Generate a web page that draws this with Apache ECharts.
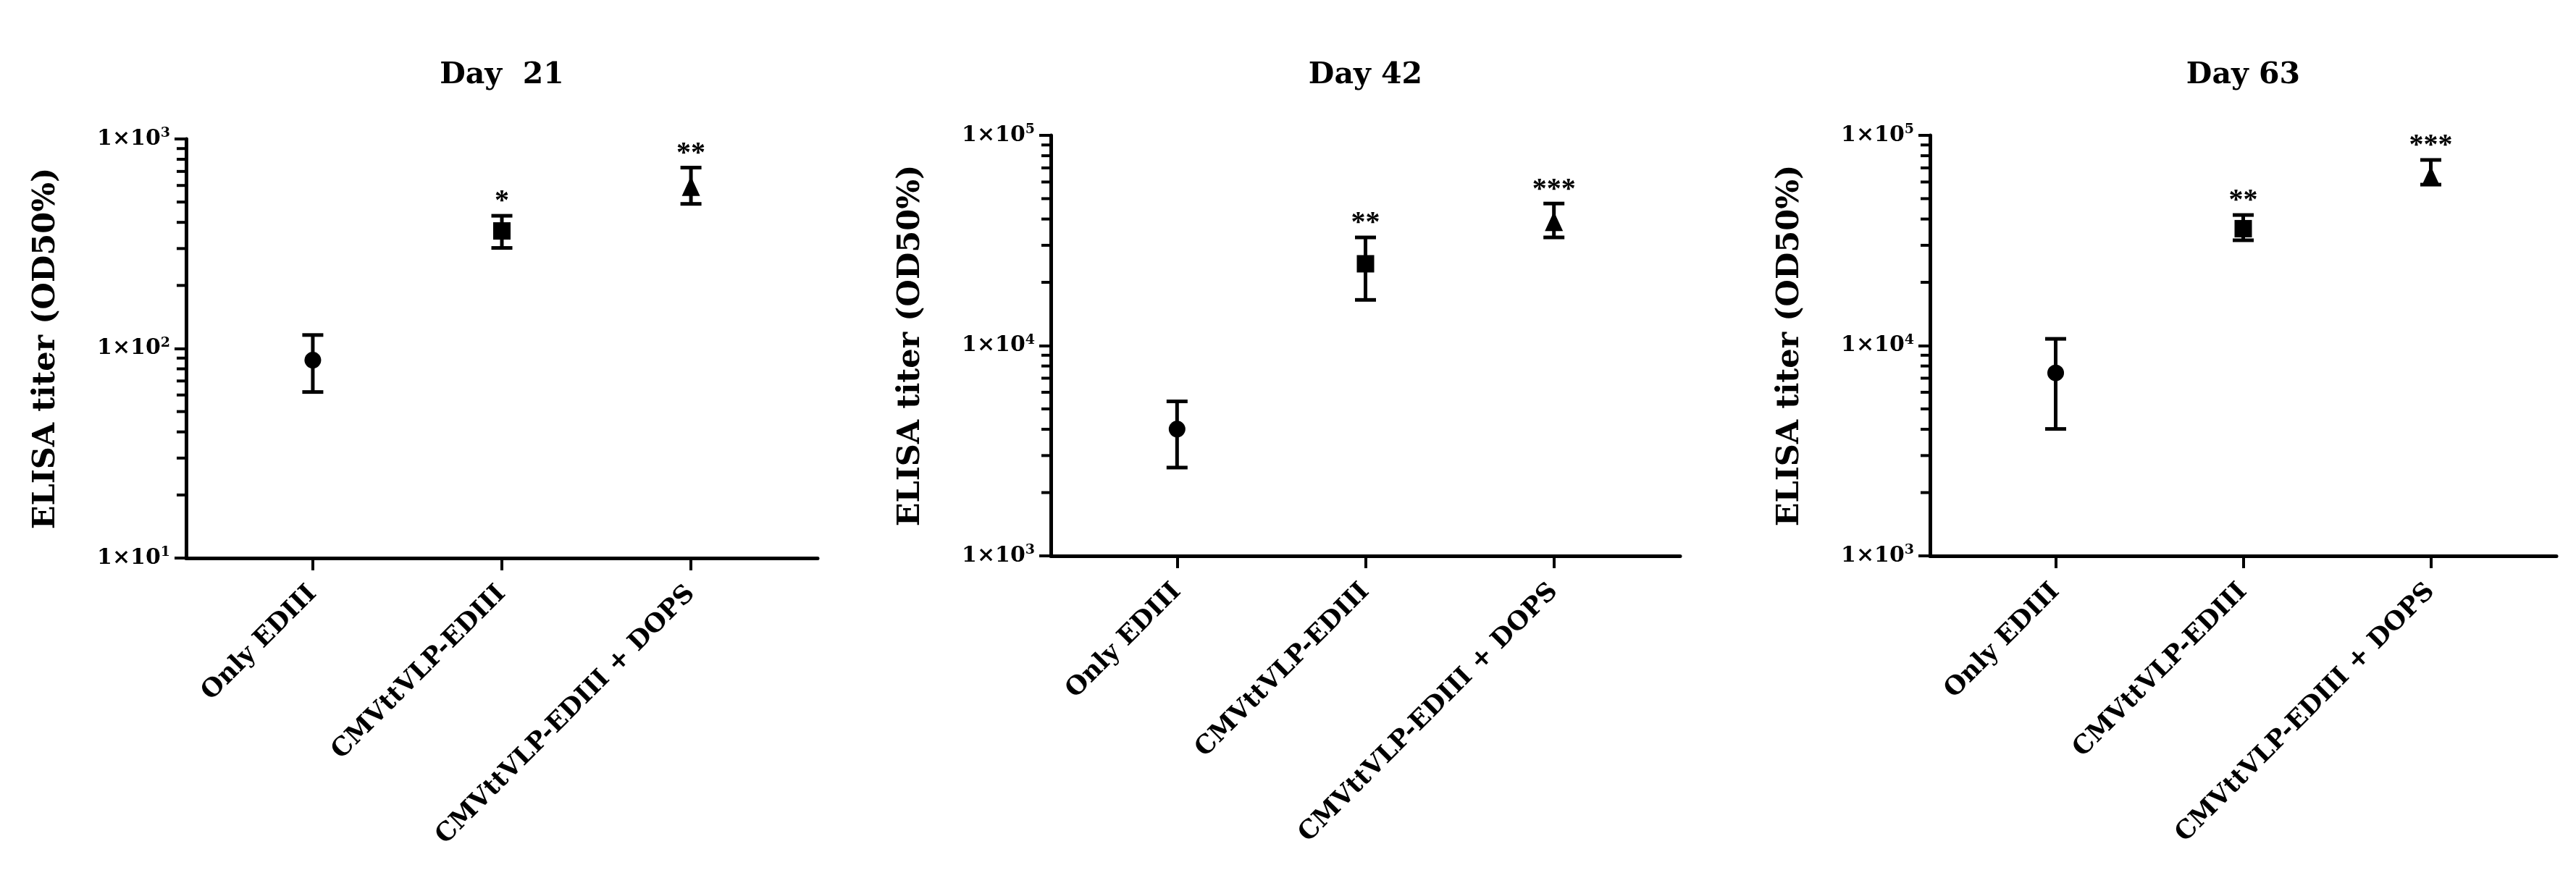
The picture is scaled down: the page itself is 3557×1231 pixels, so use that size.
<!DOCTYPE html>
<html><head><meta charset="utf-8">
<script src="https://cdn.jsdelivr.net/npm/echarts@6/dist/echarts.min.js"></script>
<style>html,body{margin:0;padding:0;background:#fff}#c{width:3557px;height:1231px}</style>
</head><body><div id="c"></div>
<script>
const categories = ['Only EDIII', 'CMVttVLP-EDIII', 'CMVttVLP-EDIII + DOPS'];
const panelTitles = ['Day  21', 'Day 42', 'Day 63'];
const yTitle = 'ELISA titer (OD50%)';

const day21Mean  = [88, 364, 595];
const day21Upper = [116, 430, 730];
const day21Lower = [62, 302, 490];
const day21Stars = ['', '*', '**'];
const day21YTicks = [10, 100, 1000];

const day42Mean  = [4010, 24500, 39000];
const day42Upper = [5430, 32700, 47400];
const day42Lower = [2630, 16500, 32700];
const day42Stars = ['', '**', '***'];
const day42YTicks = [1000, 10000, 100000];

const day63Mean  = [7420, 36000, 64100];
const day63Upper = [10770, 41800, 76400];
const day63Lower = [4015, 31700, 58300];
const day63Stars = ['', '**', '***'];
const day63YTicks = [1000, 10000, 100000];

const minorMultipliers = [2, 3, 4, 5, 6, 7, 8, 9];
const markerSymbols = ['circle', 'rect', 'triangle'];
const markerSizes = [23, 24, [25, 27]];

const panels = [
  {title: panelTitles[0], mean: day21Mean, upper: day21Upper, lower: day21Lower, stars: day21Stars, ticks: day21YTicks},
  {title: panelTitles[1], mean: day42Mean, upper: day42Upper, lower: day42Lower, stars: day42Stars, ticks: day42YTicks},
  {title: panelTitles[2], mean: day63Mean, upper: day63Upper, lower: day63Lower, stars: day63Stars, ticks: day63YTicks}
];

const boxes = [
  {l: 257, r: 1129, t: 192, b: 771},
  {l: 1451, r: 2320, t: 187, b: 768},
  {l: 2665, r: 3530, t: 187, b: 768}
];
const FONT = 'DejaVu Serif';
const catPos = [1, 2, 3];
const X_MIN = 0.33, X_MAX = 3.67;

const option = {
  backgroundColor: '#ffffff',
  animation: false,
  title: [], grid: [], xAxis: [], yAxis: [], series: []
};

panels.forEach((p, i) => {
  const b = boxes[i];
  const minors = [];
  for (let k = 0; k < p.ticks.length - 1; k++) {
    minorMultipliers.forEach(m => minors.push(p.ticks[k] * m));
  }
  option.title.push({
    text: p.title, left: (b.l + b.r) / 2, top: 84, textAlign: 'center', padding: 0,
    textStyle: {fontFamily: FONT, fontWeight: 'bold', fontSize: 41, color: '#000'}
  });
  option.grid.push({left: b.l, top: b.t, width: b.r - b.l, height: b.b - b.t});
  option.xAxis.push({
    type: 'value', gridIndex: i, min: X_MIN, max: X_MAX,
    splitLine: {show: false},
    axisLine: {onZero: false, lineStyle: {color: '#000', width: 5}},
    axisTick: {customValues: catPos, length: 17, lineStyle: {color: '#000', width: 4}},
    axisLabel: {
      customValues: catPos, rotate: 45, margin: 44,
      formatter: v => categories[Math.round(v) - 1],
      fontFamily: FONT, fontWeight: 'bold', fontSize: 35, color: '#000'
    }
  });
  option.yAxis.push({
    type: 'log', logBase: 10, gridIndex: i, min: p.ticks[0], max: p.ticks[p.ticks.length - 1],
    position: 'left',
    splitLine: {show: false},
    axisLine: {onZero: false, lineStyle: {color: '#000', width: 5}},
    axisTick: {customValues: p.ticks, length: 16, lineStyle: {color: '#000', width: 4}},
    axisLabel: {
      customValues: p.ticks, margin: 22,
      formatter: v => '{b|1×10}{s|' + Math.round(Math.log10(v)) + '}',
      rich: {
        b: {fontFamily: FONT, fontWeight: 'bold', fontSize: 30, color: '#000', lineHeight: 34},
        s: {fontFamily: FONT, fontWeight: 'bold', fontSize: 19, color: '#000', verticalAlign: 'top', lineHeight: 34}
      }
    },
    name: yTitle, nameLocation: 'middle', nameRotate: 90, nameGap: 172,
    nameTextStyle: {fontFamily: FONT, fontWeight: 'bold', fontSize: 43, color: '#000'}
  });

  const stars = p.stars;
  option.series.push({
    type: 'custom', xAxisIndex: i, yAxisIndex: i, z: 2, clip: false,
    encode: {x: 0, y: [1, 2]},
    data: catPos.map((x, j) => [x, p.lower[j], p.upper[j]]),
    renderItem: (params, api) => {
      const x = api.value(0);
      const lo = api.coord([x, api.value(1)]);
      const hi = api.coord([x, api.value(2)]);
      const hw = 14.5;
      const st = {stroke: '#000', lineWidth: 5};
      const star = stars[params.dataIndex];
      const children = [
        {type: 'line', shape: {x1: lo[0], y1: lo[1], x2: hi[0], y2: hi[1]}, style: st},
        {type: 'line', shape: {x1: lo[0] - hw, y1: lo[1], x2: lo[0] + hw, y2: lo[1]}, style: st},
        {type: 'line', shape: {x1: hi[0] - hw, y1: hi[1], x2: hi[0] + hw, y2: hi[1]}, style: st}
      ];
      if (star) {
        children.push({type: 'text', style: {
          text: star, x: hi[0], y: hi[1] + 1, align: 'center', verticalAlign: 'bottom',
          fontFamily: 'Liberation Serif', fontWeight: 'bold', fontSize: 40, fill: '#000'
        }});
      }
      // minor ticks (2..9 per decade) of the log axis, placed through the axis scale
      if (params.dataIndex === 0) {
        minors.forEach(v => {
          const c = api.coord([X_MIN, v]);
          children.push({type: 'line', shape: {x1: c[0] - 13, y1: c[1], x2: c[0] + 1, y2: c[1]},
                         style: {stroke: '#000', lineWidth: 4}});
        });
      }
      return {type: 'group', children};
    }
  });
  option.series.push({
    type: 'scatter', xAxisIndex: i, yAxisIndex: i, z: 3,
    itemStyle: {color: '#000', opacity: 1},
    data: catPos.map((x, j) => ({value: [x, p.mean[j]], symbol: markerSymbols[j], symbolSize: markerSizes[j]}))
  });
});

const chart = echarts.init(document.getElementById('c'), null, {renderer: 'canvas'});
chart.setOption(option);
</script>
</body></html>
